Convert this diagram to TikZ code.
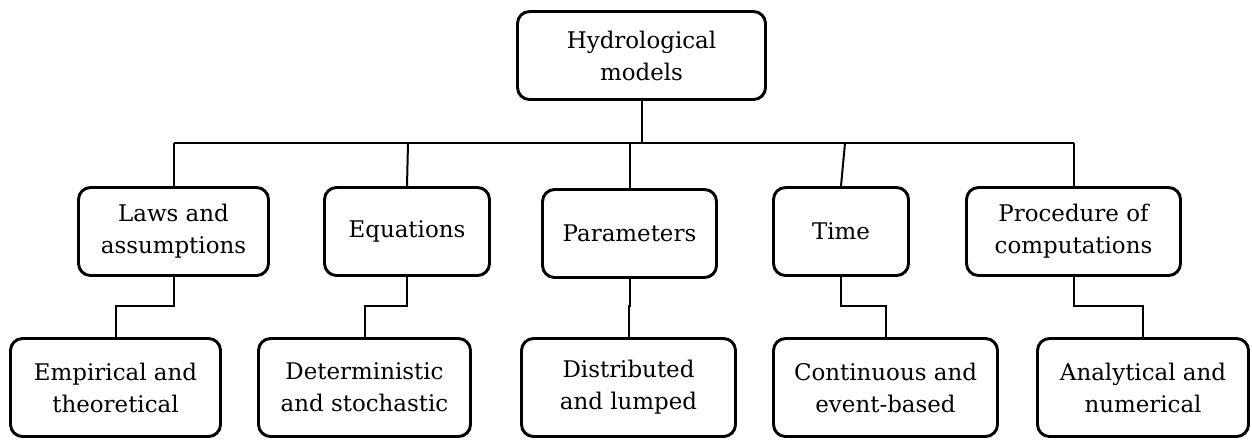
\documentclass[tikz,border=0pt]{standalone}
\usepackage{fontspec}
\setmainfont{DejaVu Serif}
\begin{document}
\begin{tikzpicture}[x=0.75pt,y=-0.75pt,
  box/.style={draw, line width=2.2pt, rounded corners=9pt, align=center, inner sep=0pt,
              font=\fontsize{17.2}{24}\selectfont},
  lvtwo/.style={box, minimum height=66pt},
  lvthree/.style={box, minimum height=73.5pt},
  link/.style={line width=1.5pt}]
\useasboundingbox (0,0) rectangle (1252,440);
% root
\node[box, minimum width=186pt, minimum height=66pt] (root) at (641.5,55.5) {Hydrological\\models};
% level 2
\node[lvtwo, minimum width=142.5pt] (laws) at (173.5,231.5) {Laws and\\assumptions};
\node[lvtwo, minimum width=123.75pt] (eq) at (407,231.5) {Equations};
\node[lvtwo, minimum width=130.5pt] (par) at (629.5,233.5) {Parameters};
\node[lvtwo, minimum width=101.25pt] (time) at (841,231.5) {Time};
\node[lvtwo, minimum width=160.5pt] (proc) at (1073.5,231.5) {Procedure of\\computations};
% level 3
\node[lvthree, minimum width=157.5pt] (emp) at (115.5,387.5) {Empirical and\\theoretical};
\node[lvthree, minimum width=159pt] (det) at (364.5,387.5) {Deterministic\\and stochastic};
\node[lvthree, minimum width=160.5pt] (dist) at (628.5,387.5) {Distributed\\and lumped};
\node[lvthree, minimum width=168pt] (cont) at (885.5,387.5) {Continuous and\\event-based};
\node[lvthree, minimum width=158.25pt] (ana) at (1143,387.5) {Analytical and\\numerical};
% bar coordinates
\coordinate (barL) at (173.5,143);
\coordinate (barR) at (1073.5,143);
\coordinate (eqtop) at (408,143);
\coordinate (timetop) at (845,143);
\coordinate (elbow) at (0,306);
% connectors
\draw[link] (root.south) -- (root.south |- barL);
\draw[link] (barL) -- (barR);
\draw[link] (barL) -- (laws.north);
\draw[link] (eqtop) -- (eq.north);
\draw[link] (par.north |- barL) -- (par.north);
\draw[link] (timetop) -- (time.north);
\draw[link] (barR) -- (proc.north);
% elbows
\draw[link] (laws.south) -- (laws.south |- elbow) -- (emp.north |- elbow) -- (emp.north);
\draw[link] (eq.south) -- (eq.south |- elbow) -- (det.north |- elbow) -- (det.north);
\draw[link] (par.south) -- (par.south |- elbow) -- (dist.north |- elbow) -- (dist.north);
\draw[link] (time.south) -- (time.south |- elbow) -- (cont.north |- elbow) -- (cont.north);
\draw[link] (proc.south) -- (proc.south |- elbow) -- (ana.north |- elbow) -- (ana.north);
\end{tikzpicture}
\end{document}
